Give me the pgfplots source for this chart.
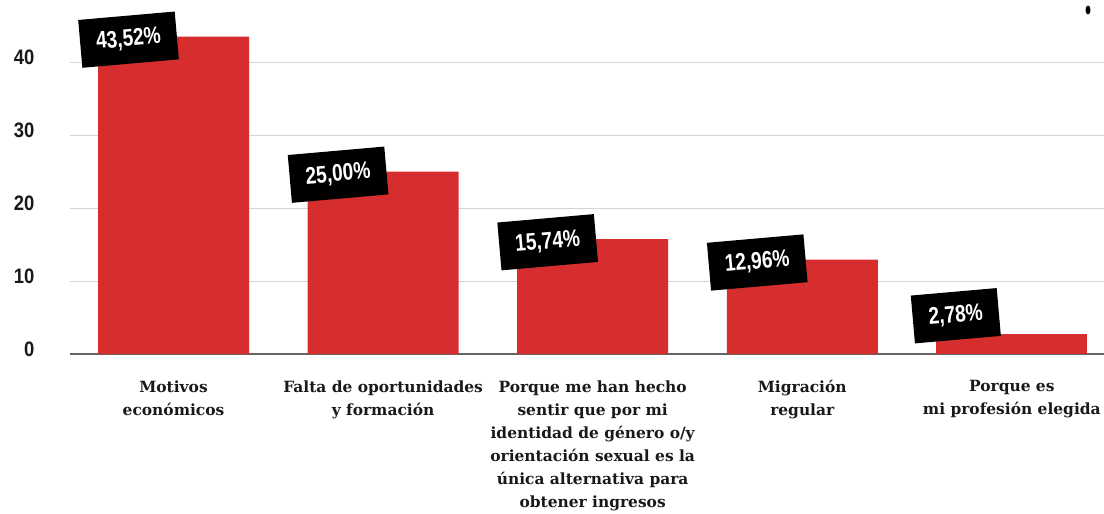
\documentclass[border=0pt]{standalone}
\usepackage{pgfplots}
\pgfplotsset{compat=1.18}
\usepackage{fontspec}
\setmainfont{DejaVu Serif}
\newfontfamily\condfont[FakeStretch=0.88]{Liberation Sans}
\newfontfamily\lblfont[FakeStretch=0.8]{Liberation Sans}
\definecolor{barred}{RGB}{214,46,46}
\definecolor{gridgray}{RGB}{212,212,212}
\definecolor{basegray}{RGB}{100,100,100}
\definecolor{txt}{RGB}{25,25,25}
\pgfplotsset{
  lbl/.style 2 args={every node near coord/.style={anchor=center, xshift=#1, yshift=#2, rotate=5,
     fill=black, text=white, inner xsep=16bp, inner ysep=0pt, minimum height=48bp,
     font=\lblfont\bfseries\fontsize{24}{26}\selectfont}}
}
\begin{document}
\begin{tikzpicture}
\begin{axis}[name=ax, scale only axis, width=1034bp, height=350bp,
  xmin=-0.494, xmax=4.44, ymin=0, ymax=48,
  axis line style={draw=none}, major tick length=0pt,
  /pgf/number format/assume math mode=true,
  ytick={10,20,30,40}, extra y ticks={0},
  extra y tick style={grid style={basegray, line width=1.4bp}},
  ymajorgrids, grid style={gridgray, line width=1bp},
  yticklabel style={font=\condfont\bfseries\fontsize{21}{22}\selectfont, text=txt, xshift=-32bp, yshift=5bp},
  xtick={0,1,2,3,4},
  xticklabels={{Motivos\\económicos},{Falta de oportunidades\\y formación},{Porque me han hecho\\sentir que por mi\\identidad de género o/y\\orientación sexual es la\\única alternativa para\\obtener ingresos},{Migración\\regular},{Porque es\\mi profesión elegida}},
  xticklabel style={font=\bfseries\fontsize{15.5}{23.2}\selectfont, text=txt, align=center, yshift=-23bp},
  ybar, bar width=151bp, bar shift=0pt,
  nodes near coords, point meta=explicit symbolic,
]
\addplot[fill=barred, draw=none, lbl={-45bp}{-3bp}] coordinates {(0,43.52) [43,52\%] (1,25.00) [25,00\%] (2,15.74) [15,74\%] (3,12.96) [12,96\%]};
\addplot[fill=barred, draw=none, lbl={-56bp}{18bp}] coordinates {(4,2.78) [2,78\%]};
\end{axis}
\fill ([shift={(1018bp,344bp)}]ax.south west) ellipse (2.5bp and 4.5bp);
\pgfresetboundingbox
\path ([shift={(-70bp,-160bp)}]ax.south west) rectangle ([shift={(1034bp,354bp)}]ax.south west);
\end{tikzpicture}
\end{document}
